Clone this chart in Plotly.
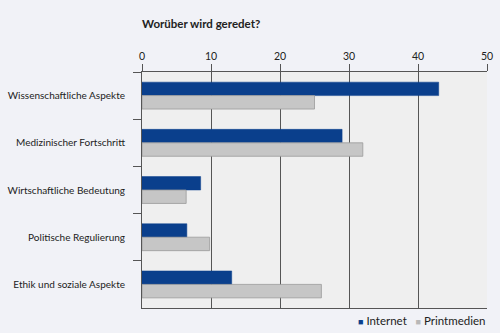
import plotly.graph_objects as go

categories = ["Wissenschaftliche Aspekte", "Medizinischer Fortschritt",
              "Wirtschaftliche Bedeutung", "Politische Regulierung",
              "Ethik und soziale Aspekte"]
internet = [43, 29, 8.5, 6.5, 13]
printmedien = [25, 32, 6.4, 9.8, 26]
x_ticks = [0, 10, 20, 30, 40, 50]
series_names = ["Internet", "Printmedien"]
series_colors = ["#0a3f8c", "#c6c6c6"]

FONT = "Lato"
fig = go.Figure()
fig.add_trace(go.Bar(y=categories, x=internet, name=series_names[0], orientation="h",
                     marker=dict(color=series_colors[0], line=dict(color=series_colors[0], width=0.5))))
fig.add_trace(go.Bar(y=categories, x=printmedien, name=series_names[1], orientation="h",
                     marker=dict(color=series_colors[1], line=dict(color="#9a9a9a", width=0.8))))

legend_text = (f"<span style='color:{series_colors[0]};font-size:9px'>■</span> {series_names[0]}"
               f"&nbsp;&nbsp;&nbsp;<span style='color:#b8b8b8;font-size:9px'>■</span> {series_names[1]}")

fig.update_layout(
    width=500, height=333,
    margin=dict(l=142, r=13, t=72, b=25, autoexpand=False),
    paper_bgcolor="#f1f2f7", plot_bgcolor="#efefef",
    barmode="group", bargap=0.43, bargroupgap=0,
    showlegend=False,
    font=dict(family=FONT, size=11, color="#222"),
    title=dict(text="<b>Worüber wird geredet?</b>", x=142/500, xanchor="left",
               y=1-24/333, yanchor="middle", font=dict(family=FONT, size=11.5, color="#222")),
    xaxis=dict(side="top", range=[0, 50], tickvals=x_ticks, ticks="outside", ticklen=7,
               tickcolor="#555", showgrid=True, gridcolor="#555", gridwidth=1,
               zeroline=False, showline=True, linecolor="#555", mirror=True,
               tickfont=dict(size=10.5, color="#222")),
    yaxis=dict(autorange="reversed", ticks="outside", ticklen=8, tickson="boundaries",
               tickcolor="#555", showline=True, linecolor="#555", showgrid=False,
               ticklabelstandoff=14,
               tickfont=dict(size=10, color="#222")),
    annotations=[dict(text=legend_text, xref="paper", yref="paper", x=1, y=-25/236*0.5,
                      xanchor="right", yanchor="middle", showarrow=False,
                      font=dict(family=FONT, size=11.5, color="#222"))],
)
fig.write_html("out.html")
